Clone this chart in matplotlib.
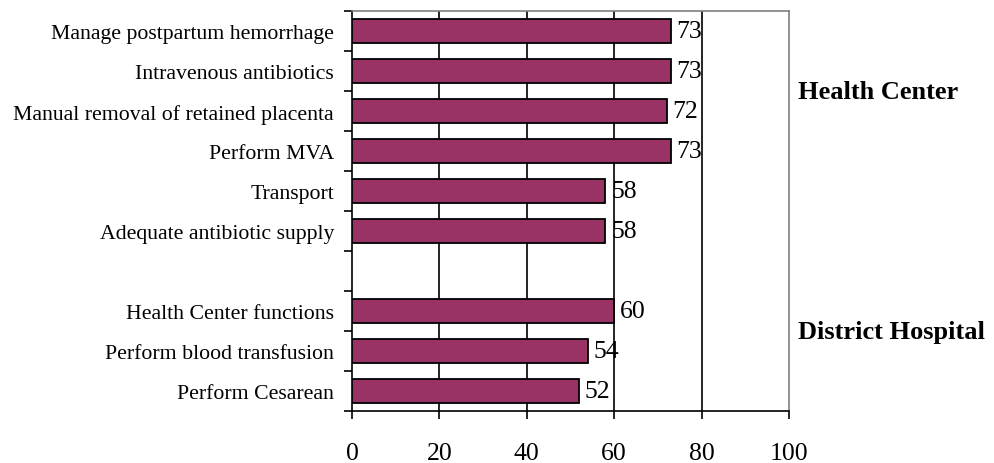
import matplotlib
matplotlib.use('Agg')
import matplotlib.pyplot as plt
import numpy as np

# 数据（从上到下）
hc_labels = ['Manage postpartum hemorrhage', 'Intravenous antibiotics',
             'Manual removal of retained placenta', 'Perform MVA',
             'Transport', 'Adequate antibiotic supply']
hc_values = [73, 73, 72, 73, 58, 58]
dh_labels = ['Health Center functions', 'Perform blood transfusion', 'Perform Cesarean']
dh_values = [60, 54, 52]
group_names = ['Health Center', 'District Hospital']
x_ticks = [0, 20, 40, 60, 80, 100]

plt.rcParams['font.family'] = ['Liberation Serif', 'DejaVu Serif']

fig = plt.figure(figsize=(9.95, 4.64), dpi=100)
ax = fig.add_axes([0.3538, 0.112, 0.4392, 0.862])

# 两组之间空一行
labels = hc_labels + [''] + dh_labels
values = hc_values + [None] + dh_values
pos = np.arange(len(labels))

for p, v in zip(pos, values):
    if v is None:
        continue
    ax.barh(p, v, height=0.62, color='#993366', edgecolor='black',
            linewidth=1.3, zorder=3)
    ax.text(v + 1.3, p, str(v), va='center', ha='left', fontsize=18.5, zorder=4)

ax.set_xlim(0, 100)
ax.set_ylim(len(labels) - 0.5, -0.5)

# 纵向网格线
for xv in x_ticks[1:-1]:
    ax.axvline(xv, color='black', linewidth=1.2, zorder=1)

ax.set_xticks(x_ticks)
ax.set_xticklabels([str(t) for t in x_ticks], fontsize=18.5)
ax.tick_params(axis='x', direction='out', length=6, width=1.2, pad=16)

ax.set_yticks(np.arange(len(labels) + 1) - 0.5)
ax.set_yticklabels([])
ax.set_yticks(pos, minor=True)
ax.set_yticklabels(labels, minor=True, fontsize=15.7)
ax.tick_params(axis='y', which='major', direction='out', length=6, width=1.2)
ax.tick_params(axis='y', which='minor', length=0, pad=13)

for side in ['left', 'bottom']:
    ax.spines[side].set_color('black')
    ax.spines[side].set_linewidth(1.2)
for side in ['top', 'right']:
    ax.spines[side].set_color('#808080')
    ax.spines[side].set_linewidth(1.2)

# 分组标签
ax.text(1.02, 1.5, group_names[0], transform=ax.get_yaxis_transform(),
        fontsize=19, fontweight='bold', va='center', ha='left')
ax.text(1.02, 7.5, group_names[1], transform=ax.get_yaxis_transform(),
        fontsize=19, fontweight='bold', va='center', ha='left')

fig.savefig('out.png', dpi=100)
